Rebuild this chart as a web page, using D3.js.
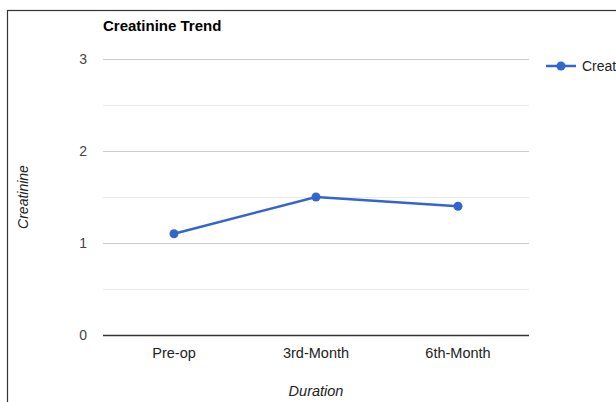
<!DOCTYPE html>
<html><head><meta charset="utf-8">
<script src="https://cdn.jsdelivr.net/npm/d3@7"></script>
<style>body{margin:0;background:#fff}svg{display:block;font-family:"Liberation Sans",Arial,sans-serif}</style>
</head><body><svg id="c" width="616" height="402"></svg>
<script>
const categories = ["Pre-op", "3rd-Month", "6th-Month"];
const creatinine = [1.1, 1.5, 1.4];
const yTicks = [0, 1, 2, 3];
const yMinor = [0.5, 1.5, 2.5];
const seriesName = "Creatinine";

const svg = d3.select("#c");
const m = {l: 103, r: 529, t: 59, b: 335};
const x = d3.scaleBand().domain(categories).range([m.l, m.r]);
const y = d3.scaleLinear().domain([0, 3]).range([m.b, m.t]);

svg.append("rect").attr("x", 7.5).attr("y", 10.5).attr("width", 700).attr("height", 500)
  .attr("fill", "#fff").attr("stroke", "#333").attr("stroke-width", 1.2);

svg.append("g").selectAll("line").data(yMinor).join("line")
  .attr("x1", m.l).attr("x2", m.r).attr("y1", d => Math.round(y(d)) + 0.5).attr("y2", d => Math.round(y(d)) + 0.5)
  .attr("stroke", "#ebebeb");
svg.append("g").selectAll("line").data(yTicks.filter(d => d !== 0)).join("line")
  .attr("x1", m.l).attr("x2", m.r).attr("y1", d => Math.round(y(d)) + 0.5).attr("y2", d => Math.round(y(d)) + 0.5)
  .attr("stroke", "#cccccc");
svg.append("line").attr("x1", m.l).attr("x2", m.r).attr("y1", y(0) + 0.5).attr("y2", y(0) + 0.5)
  .attr("stroke", "#333").attr("stroke-width", 1.3);

svg.append("g").selectAll("text").data(yTicks).join("text")
  .attr("x", 87).attr("y", d => y(d)).attr("dy", "0.36em").attr("text-anchor", "end")
  .attr("font-size", 14).attr("fill", "#444").text(d => d);

svg.append("g").selectAll("text").data(categories).join("text")
  .attr("x", d => x(d) + x.bandwidth() / 2).attr("y", 358).attr("text-anchor", "middle")
  .attr("font-size", 14.5).attr("fill", "#222").text(d => d);

svg.append("text").attr("x", 103).attr("y", 31).attr("font-size", 15).attr("font-weight", "bold")
  .attr("fill", "#000").text("Creatinine Trend");
svg.append("text").attr("x", (m.l + m.r) / 2).attr("y", 396).attr("text-anchor", "middle")
  .attr("font-size", 14.5).attr("font-style", "italic").attr("fill", "#222").text("Duration");
svg.append("text").attr("transform", `translate(28,${(m.t + m.b) / 2}) rotate(-90)`).attr("text-anchor", "middle")
  .attr("font-size", 14).attr("font-style", "italic").attr("fill", "#222").text("Creatinine");

const pts = categories.map((c, i) => ({c, v: creatinine[i]}));
svg.append("path").datum(pts)
  .attr("d", d3.line().x(d => x(d.c) + x.bandwidth() / 2).y(d => y(d.v)))
  .attr("fill", "none").attr("stroke", "#3366cc").attr("stroke-width", 2.5);
svg.append("g").selectAll("circle").data(pts).join("circle")
  .attr("cx", d => x(d.c) + x.bandwidth() / 2).attr("cy", d => y(d.v)).attr("r", 4.5).attr("fill", "#3366cc");

const lg = svg.append("g");
lg.append("line").attr("x1", 546).attr("x2", 576).attr("y1", 66).attr("y2", 66).attr("stroke", "#3366cc").attr("stroke-width", 2.5);
lg.append("circle").attr("cx", 561).attr("cy", 66).attr("r", 4.5).attr("fill", "#3366cc");
lg.append("text").attr("x", 582).attr("y", 66).attr("dy", "0.36em").attr("font-size", 14).attr("fill", "#222").text(seriesName);
</script></body></html>
